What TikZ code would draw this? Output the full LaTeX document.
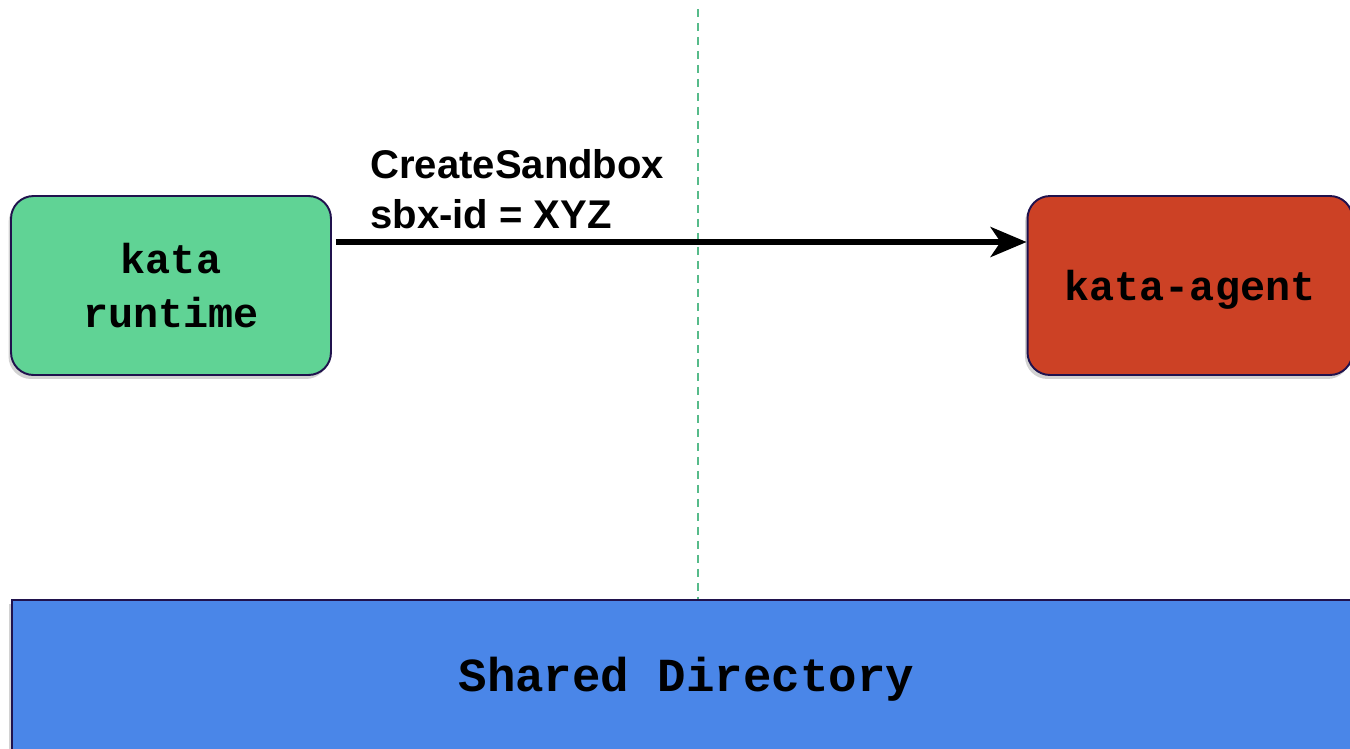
\documentclass[tikz,border=0pt]{standalone}
\usepackage{fontspec}
\usepackage{tikz}
\usetikzlibrary{arrows.meta,positioning,shadows}
\newfontfamily\boxfont{Liberation Mono}
\newfontfamily\msgfont{Liberation Sans}
\definecolor{kataGreen}{RGB}{96,211,149}
\definecolor{kataRed}{RGB}{204,65,37}
\definecolor{kataBlue}{RGB}{74,134,232}
\definecolor{kataBorder}{RGB}{32,18,77}
\definecolor{kataDash}{RGB}{87,187,138}

\begin{document}
\begin{tikzpicture}[x=0.02cm,y=-0.02cm,
  comp/.style={draw=kataBorder, line width=1.1pt, rounded corners=0.45cm,
    minimum width=6.4cm, minimum height=3.58cm, align=center,
    font=\boxfont\bfseries\fontsize{23.8}{31}\selectfont,
    drop shadow={shadow xshift=-0.05cm, shadow yshift=-0.08cm, opacity=0.35}},
  msgarrow/.style={line width=3.3pt, -{Stealth[length=0.72cm, width=0.6cm, inset=0.2cm]}},
  msglabel/.style={font=\msgfont\bfseries\fontsize{22.8}{28.5}\selectfont, align=left, inner sep=0pt}]
\useasboundingbox (0,0) rectangle (1350,748);
\clip (0,0) rectangle (1350,748);
\fill[white] (0,0) rectangle (1350,748);

% host side and guest side
\node[comp, fill=kataGreen] (runtime) at (171,285.5) {kata\\runtime};
\node[comp, fill=kataRed, minimum width=6.5cm] (agent) at (1190,285.5) {\raisebox{-0.29cm}[0pt][0pt]{kata-agent}};
\node[draw=kataBorder, line width=1.1pt, fill=kataBlue, anchor=north west,
  minimum width=26.98cm, minimum height=3.16cm,
  font=\boxfont\bfseries\fontsize{27}{32}\selectfont,
  drop shadow={shadow xshift=-0.05cm, shadow yshift=-0.08cm, opacity=0.35}]
  (shared) at (11,599) {Shared Directory};

% VM boundary
\coordinate (divtop) at (698,9);
\draw[kataDash, line width=0.04cm, dash pattern=on 0.16cm off 0.12cm]
  (divtop) -- (divtop |- shared.north);

\draw[msgarrow] ([yshift=0.87cm, xshift=0.08cm]runtime.east) -- ([yshift=0.87cm]agent.west);
\node[msglabel, anchor=north west] (msg) at (370,149) {CreateSandbox\\sbx-id = XYZ};
\end{tikzpicture}
\end{document}
